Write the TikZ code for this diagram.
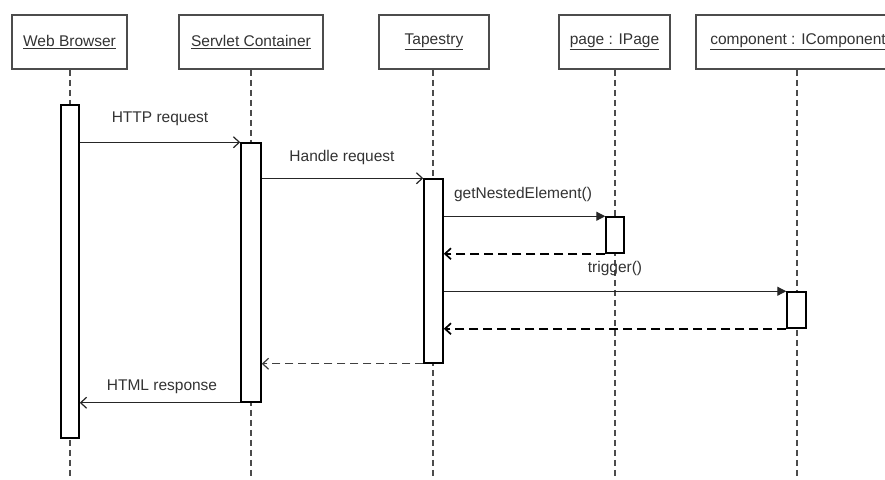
\documentclass[tikz,border=0pt]{standalone}
\usepackage{fontspec}
\setmainfont{Liberation Sans}
\usetikzlibrary{arrows.meta}
\begin{document}
\begin{tikzpicture}[x=1pt,y=-1pt,
 obj/.style={draw=black!70, line width=1.6pt, fill=white, minimum height=54pt, inner sep=0pt, font=\fontsize{15.5}{18}\selectfont, text=black!80},
 act/.style={draw=black, line width=1.5pt, fill=white, inner sep=0pt},
 life/.style={draw=black!70, line width=1.4pt, dash pattern=on 6pt off 4pt},
 msg/.style={draw=black!85, line width=1.2pt},
 ret/.style={draw=black, line width=1.7pt, dash pattern=on 9pt off 5pt},
 thinret/.style={draw=black!75, line width=1.2pt, dash pattern=on 8pt off 5pt},
 openhead/.style={-{Straight Barb[length=6pt,width=11pt]}},
 fillhead/.style={-{Triangle[length=9pt,width=9pt]}},
 lbl/.style={font=\fontsize{15.5}{18}\selectfont, inner sep=0pt, text=black!80}]
\useasboundingbox (0,0) rectangle (885,479);
\fill[white] (0,0) rectangle (885,479);
\clip (0,0) rectangle (885,479);

% object heads
\node[obj, minimum width=115pt] (wb) at (69.5,42) {\underline{Web Browser}};
\node[obj, minimum width=144pt] (sc) at (251,42) {\underline{Servlet Container}};
\node[obj, minimum width=110pt] (tp) at (434,42) {\underline{Tapestry}};
\node[obj, minimum width=111pt] (pg) at (614.5,42) {\underline{page : IPage}};
\node[obj, minimum width=204pt] (cp) at (798,42) {\underline{component : IComponent}};

% lifelines
\coordinate (wbend) at (70,479);
\coordinate (scend) at (251,479);
\coordinate (tpend) at (433,479);
\coordinate (pgend) at (615,479);
\coordinate (cpend) at (797,479);
\draw[life] (wb.south -| wbend) -- (wbend);
\draw[life] (sc.south -| scend) -- (scend);
\draw[life] (tp.south -| tpend) -- (tpend);
\draw[life] (pg.south -| pgend) -- (pgend);
\draw[life] (cp.south -| cpend) -- (cpend);

% activations
\node[act, minimum width=18pt, minimum height=333pt] (a1) at (70,271.5) {};
\node[act, minimum width=20pt, minimum height=259pt] (a2) at (251,272.5) {};
\node[act, minimum width=19pt, minimum height=184pt] (a3) at (433.5,271) {};
\node[act, minimum width=18pt, minimum height=36pt] (a4) at (615,235) {};
\node[act, minimum width=19pt, minimum height=36pt] (a5) at (796.5,310) {};

% messages
\draw[msg,openhead] (a1.east |- a2.north) -- (a2.north west);
\draw[msg,openhead] (a2.east |- a3.north) -- (a3.north west);
\draw[msg,fillhead] (a3.east |- a4.north) -- (a4.north west);
\draw[ret,openhead] (a4.south west) -- (a3.east |- a4.south);
\draw[msg,fillhead] (a3.east |- a5.north) -- (a5.north west);
\draw[ret,openhead] (a5.south west) -- (a3.east |- a5.south);
\draw[thinret,openhead] (a3.south west) -- (a2.east |- a3.south);
\draw[msg,openhead] (a2.south west) -- (a1.east |- a2.south);

% labels
\node[lbl] (l1) at (160,119) {HTTP request};
\node[lbl] (l2) at (342,157) {Handle request};
\node[lbl] (l3) at (523,194) {getNestedElement()};
\node[lbl] (l4) at (615,268) {trigger()};
\node[lbl] (l5) at (162,387) {HTML response};
\end{tikzpicture}
\end{document}
